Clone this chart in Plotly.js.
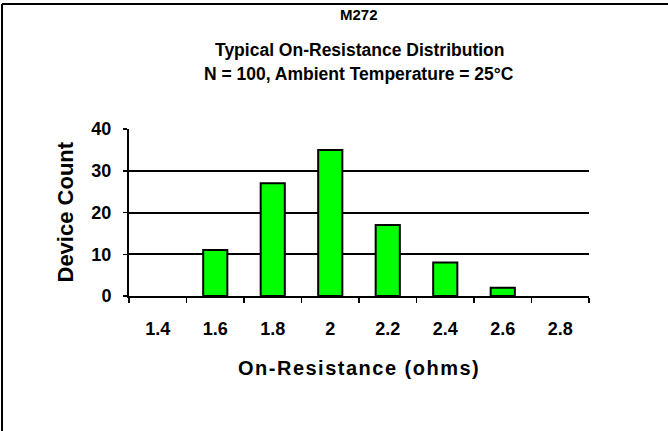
<!DOCTYPE html>
<html>
<head>
<meta charset="utf-8">
<script src="https://cdn.plot.ly/plotly-3.0.1.min.js"></script>
<style>html,body{margin:0;padding:0;background:#fff;}#chart{width:668px;height:431px;}</style>
</head>
<body>
<div id="chart"></div>
<script>
const categories = ["1.4", "1.6", "1.8", "2", "2.2", "2.4", "2.6", "2.8"];
const deviceCount = [0, 11, 27, 35, 17, 8, 2, 0];
const yTicks = [0, 10, 20, 30, 40];
const chartTitle = "M272";
const subTitle1 = "Typical On-Resistance Distribution";
const subTitle2 = "N = 100, Ambient Temperature = 25°C";
const xTitle = "On-Resistance (ohms)";
const yTitle = "Device Count";

const font = "Arial, 'Liberation Sans', sans-serif";

const trace = {
  type: "bar",
  x: categories,
  y: deviceCount,
  marker: {color: "#00ff00", line: {color: "#000000", width: deviceCount.map(v => v > 0 ? 2 : 0)}},
  width: 0.42,
  hoverinfo: "x+y"
};

const layout = {
  width: 668, height: 431,
  margin: {l: 129, r: 79, t: 129, b: 135},
  paper_bgcolor: "#ffffff", plot_bgcolor: "#ffffff",
  showlegend: false,
  font: {family: font, color: "#000", size: 16},
  xaxis: {
    type: "category",
    tickson: "boundaries",
    ticks: "outside", ticklen: 5, tickwidth: 1.5, tickcolor: "#000",
    showline: true, linecolor: "#000", linewidth: 2,
    showgrid: false, zeroline: false,
    tickfont: {family: font, size: 18, color: "#000", weight: "bold"},
    ticklabelstandoff: 15,
    range: [-0.5, 7.5]
  },
  yaxis: {
    range: [0, 40], tickvals: yTicks, ticktext: yTicks.map(String),
    ticks: "outside", ticklen: 4, tickwidth: 1.5, tickcolor: "#000",
    showline: true, linecolor: "#000", linewidth: 2,
    showgrid: true, gridcolor: "#000", gridwidth: 2,
    zeroline: false,
    tickfont: {family: font, size: 18, color: "#000", weight: "bold"},
    ticklabelstandoff: 8
  },
  annotations: [
    {text: "<b>" + chartTitle + "</b>", xref: "paper", yref: "paper", x: 0.5, y: (296-15)/167, xanchor: "center", yanchor: "middle", showarrow: false, font: {size: 15}},
    {text: "<b>" + subTitle1 + "</b>", xref: "paper", yref: "paper", x: 0.5, y: (296-50)/167, xanchor: "center", yanchor: "middle", showarrow: false, font: {size: 17.5}},
    {text: "<b>" + subTitle2 + "</b>", xref: "paper", yref: "paper", x: 0.5, y: (296-74)/167, xanchor: "center", yanchor: "middle", showarrow: false, font: {size: 17.5}},
    {text: "<b>" + xTitle + "</b>", xref: "paper", yref: "paper", x: 0.5, y: (296-368)/167, xanchor: "center", yanchor: "middle", showarrow: false, font: {size: 20}},
    {text: "<b>" + yTitle + "</b>", xref: "paper", yref: "paper", x: (65-129)/460, y: 0.5, xanchor: "center", yanchor: "middle", textangle: -90, showarrow: false, font: {size: 22}}
  ],
  shapes: [
    {type: "line", xref: "paper", yref: "paper", x0: (2-129)/460, x1: (668-129)/460, y0: (296-4)/167, y1: (296-4)/167, line: {color: "#000", width: 2}},
    {type: "line", xref: "paper", yref: "paper", x0: (2-129)/460, x1: (2-129)/460, y0: (296-4)/167, y1: (296-431)/167, line: {color: "#000", width: 2}}
  ]
};

Plotly.newPlot("chart", [trace], layout, {displayModeBar: false, staticPlot: true}).then(gd => {
  gd.querySelectorAll("text.annotation-text").forEach(t => {
    if (t.textContent === xTitle) {
      t.style.letterSpacing = "1.5px";
    }
  });
});
</script>
</body>
</html>
